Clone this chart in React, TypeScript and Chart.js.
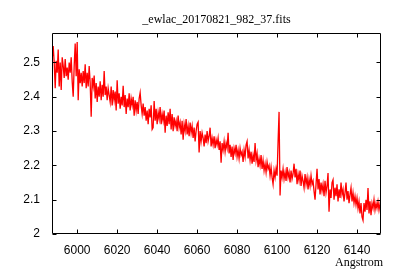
import { useEffect, useRef } from "react";
import { Chart, registerables } from "chart.js";

Chart.register(...registerables);

const TITLE = "_ewlac_20170821_982_37.fits";
const X_LABEL = "Angstrom";
const X_TICKS = [6000, 6020, 6040, 6060, 6080, 6100, 6120, 6140];
const Y_TICKS = [2, 2.1, 2.2, 2.3, 2.4, 2.5];
const X_MIN = 5987.4;
const X_MAX = 6152;
const Y_MIN = 2;
const Y_MAX = 2.586;

// FITS-style sampling grid: first wavelength and step (Angstrom)
const CRVAL1 = 5987.5;
const CDELT1 = 0.5;

const FLUX = [
  2.51,
  2.548, 2.50, 2.425, 2.505, 2.47, 2.538, 2.43, 2.50, 2.42, 2.515,
  2.49, 2.455, 2.51, 2.46, 2.485, 2.45, 2.50, 2.47, 2.515, 2.445,
  2.40, 2.49, 2.555, 2.46, 2.56, 2.39, 2.48, 2.44, 2.47, 2.43,
  2.475, 2.44, 2.495, 2.425, 2.47, 2.43, 2.49, 2.44, 2.342, 2.455,
  2.43, 2.462, 2.395, 2.44, 2.385, 2.43, 2.40, 2.445, 2.39, 2.435,
  2.40, 2.475, 2.405, 2.43, 2.39, 2.425, 2.405, 2.385, 2.43, 2.375,
  2.42, 2.39, 2.415, 2.36, 2.448, 2.38, 2.41, 2.365, 2.40, 2.375,
  2.432, 2.37, 2.405, 2.35, 2.395, 2.37, 2.41, 2.36, 2.395, 2.375,
  2.40, 2.345, 2.39, 2.36, 2.385, 2.35, 2.395, 2.412, 2.375, 2.35,
  2.38, 2.345, 2.37, 2.33, 2.36, 2.32, 2.365, 2.34, 2.375, 2.305,
  2.31, 2.388, 2.33, 2.365, 2.32, 2.355, 2.335, 2.37, 2.32, 2.35,
  2.33, 2.36, 2.295, 2.345, 2.315, 2.355, 2.32, 2.365, 2.305, 2.35,
  2.30, 2.34, 2.315, 2.33, 2.30, 2.345, 2.31, 2.325, 2.29, 2.33,
  2.275, 2.32, 2.30, 2.335, 2.29, 2.315, 2.285, 2.325, 2.295, 2.315,
  2.28, 2.31, 2.27, 2.30, 2.32, 2.326, 2.238, 2.30, 2.27, 2.295,
  2.28, 2.255, 2.29, 2.265, 2.30, 2.27, 2.285, 2.31, 2.255, 2.28,
  2.26, 2.285, 2.25, 2.275, 2.26, 2.28, 2.245, 2.27, 2.208, 2.265,
  2.245, 2.27, 2.24, 2.265, 2.25, 2.295, 2.235, 2.26, 2.225, 2.255,
  2.216, 2.25, 2.235, 2.26, 2.225, 2.245, 2.22, 2.25, 2.23, 2.24,
  2.21, 2.245, 2.225, 2.26, 2.27, 2.22, 2.245, 2.215, 2.24, 2.205,
  2.23, 2.21, 2.265, 2.215, 2.235, 2.195, 2.22, 2.20, 2.23, 2.19,
  2.215, 2.185, 2.205, 2.18, 2.21, 2.19, 2.20, 2.17, 2.195, 2.165,
  2.145, 2.185, 2.165, 2.19, 2.17, 2.268, 2.356, 2.112, 2.185, 2.165,
  2.19, 2.16, 2.18, 2.155, 2.195, 2.165, 2.18, 2.15, 2.185, 2.16,
  2.175, 2.205, 2.165, 2.19, 2.145, 2.175, 2.155, 2.185, 2.14, 2.17,
  2.155, 2.135, 2.175, 2.145, 2.165, 2.13, 2.16, 2.14, 2.17, 2.145,
  2.155, 2.125, 2.10, 2.145, 2.19, 2.13, 2.16, 2.115, 2.15, 2.125,
  2.145, 2.11, 2.155, 2.12, 2.14, 2.178, 2.065, 2.13, 2.105, 2.15,
  2.158, 2.10, 2.135, 2.11, 2.145, 2.095, 2.13, 2.105, 2.15, 2.115,
  2.13, 2.095, 2.12, 2.15, 2.10, 2.125, 2.09, 2.115, 2.135, 2.095,
  2.12, 2.09, 2.11, 2.085, 2.105, 2.075, 2.095, 2.06, 2.09, 2.05,
  2.04, 2.09, 2.065, 2.10, 2.07, 2.134, 2.06, 2.095, 2.055, 2.09,
  2.075, 2.10, 2.07, 2.09, 2.075, 2.095, 2.07, 2.088, 2.075,
];

const SANS = "'Liberation Sans', Arial, sans-serif";
const SERIF = "'Liberation Serif', 'Times New Roman', serif";

const gnuFrame = {
  id: "gnuFrame",
  afterDatasetsDraw(chart: any) {
    const { ctx, chartArea: a, scales } = chart;
    const L = Math.round(a.left) + 0.5;
    const R = Math.round(a.right) - 0.5;
    const T = Math.round(a.top) + 0.5;
    const B = Math.round(a.bottom) - 0.5;
    const tl = 4;
    ctx.save();
    ctx.strokeStyle = "#000";
    ctx.lineWidth = 1;
    ctx.beginPath();
    ctx.rect(L, T, R - L, B - T);
    for (const v of X_TICKS) {
      const px = Math.round(scales.x.getPixelForValue(v)) + 0.5;
      ctx.moveTo(px, B);
      ctx.lineTo(px, B - tl);
      ctx.moveTo(px, T);
      ctx.lineTo(px, T + tl);
    }
    for (const v of Y_TICKS) {
      const py = Math.round(scales.y.getPixelForValue(v)) + 0.5;
      ctx.moveTo(L, py);
      ctx.lineTo(L + tl, py);
      ctx.moveTo(R, py);
      ctx.lineTo(R - tl, py);
    }
    ctx.stroke();
    ctx.fillStyle = "#000";
    ctx.font = `12px ${SERIF}`;
    ctx.textBaseline = "alphabetic";
    ctx.textAlign = "center";
    ctx.fillText(TITLE, (a.left + a.right) / 2, 23);
    ctx.textAlign = "right";
    ctx.fillText(X_LABEL, 383, 266);
    ctx.restore();
  },
};

export default function App() {
  const ref = useRef<HTMLCanvasElement | null>(null);
  useEffect(() => {
    document.body.style.margin = "0";
    const canvas = ref.current;
    if (!canvas) return;
    const points = FLUX.map((y, i) => ({ x: CRVAL1 + i * CDELT1, y }));
    const chart = new Chart(canvas, {
      type: "line",
      data: {
        datasets: [
          {
            data: points,
            borderColor: "#ff0000",
            borderWidth: 1.3,
            pointRadius: 0,
            tension: 0,
            fill: false,
          },
        ],
      },
      options: {
        animation: false,
        responsive: false,
        events: [],
        layout: { padding: { top: 33, right: 19, left: 0, bottom: 0 } },
        plugins: {
          legend: { display: false },
          title: { display: false },
          tooltip: { enabled: false },
        },
        scales: {
          x: {
            type: "linear",
            min: X_MIN,
            max: X_MAX,
            grid: { display: false, drawTicks: false },
            border: { display: false },
            afterBuildTicks: (s: any) => {
              s.ticks = X_TICKS.map((v) => ({ value: v }));
            },
            afterFit: (s: any) => {
              s.height = 46;
            },
            ticks: {
              color: "#000",
              font: { family: SANS, size: 12 },
              padding: 9,
              maxRotation: 0,
              autoSkip: false,
              callback: (v: any) => String(v),
            },
          },
          y: {
            type: "linear",
            min: Y_MIN,
            max: Y_MAX,
            grid: { display: false, drawTicks: false },
            border: { display: false },
            afterBuildTicks: (s: any) => {
              s.ticks = Y_TICKS.map((v) => ({ value: v }));
            },
            afterFit: (s: any) => {
              s.width = 52;
            },
            ticks: {
              color: "#000",
              font: { family: SANS, size: 12 },
              padding: 12,
              autoSkip: false,
              callback: (v: any) => String(v),
            },
          },
        },
      },
      plugins: [gnuFrame],
    });
    return () => chart.destroy();
  }, []);
  return <canvas ref={ref} width={400} height={280} style={{ display: "block" }} />;
}
